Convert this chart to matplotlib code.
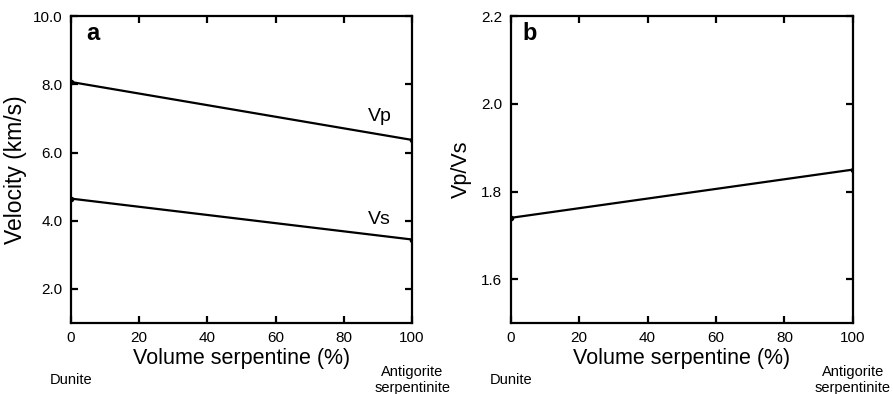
import matplotlib.pyplot as plt

plt.rcParams['font.family'] = ['Liberation Sans', 'DejaVu Sans']

# serpentine content (vol %) at the two end members
serp = [0, 100]
vp = [8.07, 6.37]
vs = [4.65, 3.45]
vpvs = [1.74, 1.85]

x_ticks = [0, 20, 40, 60, 80, 100]
a_yticks = [2.0, 4.0, 6.0, 8.0, 10.0]
b_yticks = [1.6, 1.8, 2.0, 2.2]


def style_axes(ax):
    for s in ax.spines.values():
        s.set_linewidth(1.6)
    ax.tick_params(direction='in', length=5, width=1.6, top=True, right=True,
                   labelsize=11, pad=6)
    ax.set_xlim(0, 100)
    ax.set_xticks(x_ticks)
    ax.set_xlabel("Volume serpentine (%)", fontsize=15.5, labelpad=2)
    ax.text(0, -0.185, "Dunite", transform=ax.get_xaxis_transform(),
            ha='center', va='center', fontsize=10.5)
    ax.text(100, -0.185, "Antigorite\nserpentinite", transform=ax.get_xaxis_transform(),
            ha='center', va='center', fontsize=10.5, linespacing=1.15)


fig = plt.figure(figsize=(8.93, 3.94), dpi=100)

ax1 = fig.add_axes([0.0795, 0.180, 0.382, 0.779])
ax1.plot(serp, vp, color='black', lw=1.6, marker='o', ms=3)
ax1.plot(serp, vs, color='black', lw=1.6, marker='o', ms=3)
ax1.set_ylim(1.0, 10.0)
ax1.set_yticks(a_yticks)
ax1.set_yticklabels([f"{t:.1f}" for t in a_yticks])
ax1.set_ylabel("Velocity (km/s)", fontsize=16.5, labelpad=4)
ax1.text(90.5, 7.05, "Vp", ha='center', va='center', fontsize=14)
ax1.text(90.5, 4.05, "Vs", ha='center', va='center', fontsize=14)
ax1.text(0.045, 0.945, "a", transform=ax1.transAxes, fontsize=17,
         fontweight='bold', ha='left', va='center')
style_axes(ax1)

ax2 = fig.add_axes([0.572, 0.180, 0.383, 0.779])
ax2.plot(serp, vpvs, color='black', lw=1.6, marker='o', ms=3)
ax2.set_ylim(1.5, 2.2)
ax2.set_yticks(b_yticks)
ax2.set_yticklabels([f"{t:.1f}" for t in b_yticks])
ax2.set_ylabel("Vp/Vs", fontsize=15.5, labelpad=7)
ax2.text(0.035, 0.945, "b", transform=ax2.transAxes, fontsize=17,
         fontweight='bold', ha='left', va='center')
style_axes(ax2)

fig.savefig("out.png", dpi=100)
